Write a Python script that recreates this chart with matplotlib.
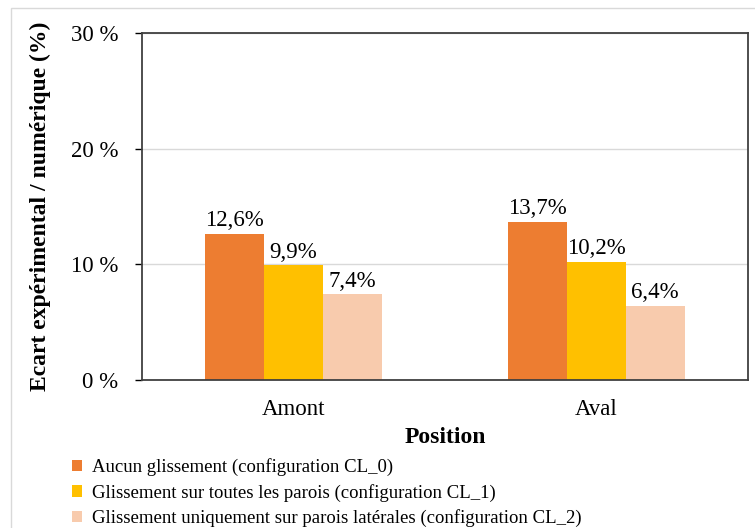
import matplotlib
matplotlib.use('Agg')
import matplotlib.pyplot as plt
from matplotlib.patches import Rectangle
import numpy as np

positions = ["Amont", "Aval"]
series_names = [
    "Aucun glissement (configuration CL_0)",
    "Glissement sur toutes les parois (configuration CL_1)",
    "Glissement uniquement sur parois latérales (configuration CL_2)",
]
cl0 = [12.6, 13.7]
cl1 = [9.9, 10.2]
cl2 = [7.4, 6.4]
colors = ["#ED7D31", "#FFC000", "#F8CBAD"]
yticks = [0, 10, 20, 30]

plt.rcParams['font.family'] = ['Liberation Serif', 'DejaVu Serif']

fig = plt.figure(figsize=(7.55, 5.28), dpi=100)
# light frame around the whole chart
fig.patches.append(Rectangle((11 / 755, -0.1), 1.1, 1 - 8 / 528 + 0.1,
                             transform=fig.transFigure, fill=False,
                             edgecolor="#d9d9d9", linewidth=1))
ax = fig.add_axes([142 / 755, 1 - 380 / 528, 606 / 755, 347 / 528])

x = np.arange(len(positions))
width = 0.194
for i, (vals, name, c) in enumerate(zip([cl0, cl1, cl2], series_names, colors)):
    bars = ax.bar(x + (i - 1) * width, vals, width, color=c, label=name)
    for b, v in zip(bars, vals):
        ax.text(b.get_x() + b.get_width() / 2, v + 0.25,
                f"{v:.1f}%".replace(".", ","), ha="center", va="bottom",
                fontsize=16.5)

ax.set_xlim(-0.5, 1.5)
ax.set_ylim(0, 30)
ax.set_yticks(yticks)
ax.set_yticklabels([f"{t} %" for t in yticks], fontsize=16.5)
ax.set_xticks(x)
ax.set_xticklabels(positions, fontsize=16.5)
ax.tick_params(axis="x", length=0, pad=14)
ax.tick_params(axis="y", length=5, width=1, pad=12)
ax.grid(axis="y", color="#d9d9d9", linewidth=1)
ax.set_axisbelow(True)
for s in ax.spines.values():
    s.set_color("#404040")
    s.set_linewidth(1.3)

ax.set_xlabel("Position", fontsize=17, fontweight="bold", labelpad=5)
ax.set_ylabel("Ecart expérimental / numérique (%)", fontsize=17,
              fontweight="bold")
ax.yaxis.set_label_coords(-(142 - 51) / 606, 0.5)

ax.legend(loc="upper left", bbox_to_anchor=(72 / 755, 1 - 458 / 528),
          bbox_transform=fig.transFigure, frameon=False, fontsize=13.5,
          handlelength=0.55, handleheight=0.55, handletextpad=0.5,
          labelspacing=0.41, borderaxespad=0, borderpad=0)

fig.savefig("out.png", dpi=100)
